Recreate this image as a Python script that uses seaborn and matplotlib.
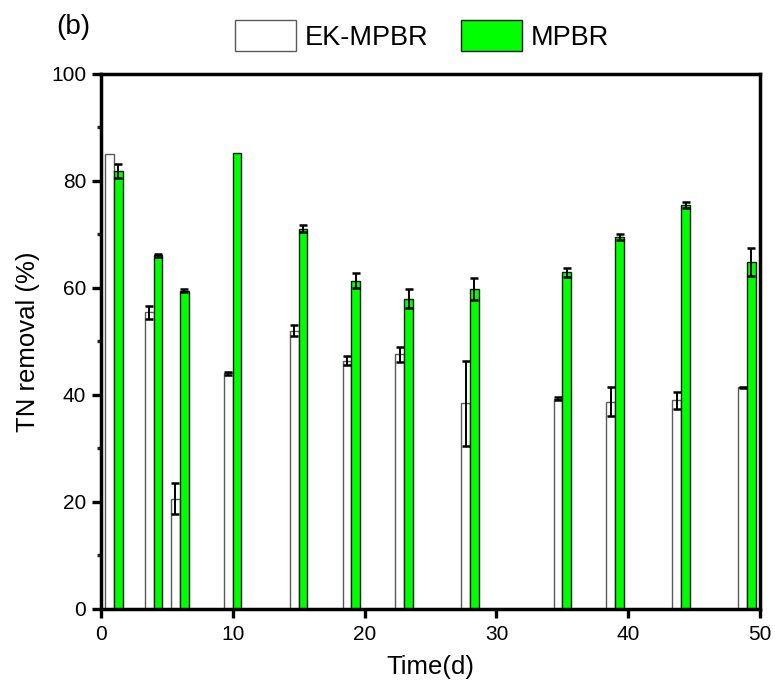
import numpy as np
import pandas as pd
import matplotlib
matplotlib.use("Agg")
import matplotlib.pyplot as plt
from matplotlib.ticker import MultipleLocator
import seaborn as sns

# Sampling days and TN removal (%) with standard deviations
days = [1, 4, 6, 10, 15, 19, 23, 28, 35, 39, 44, 49]
ek_mpbr = [85.0, 55.4, 20.6, 44.0, 52.0, 46.4, 47.6, 38.4, 39.3, 38.7, 39.0, 41.4]
ek_mpbr_sd = [0.0, 1.2, 2.9, 0.3, 1.0, 0.8, 1.4, 7.9, 0.3, 2.7, 1.6, 0.1]
mpbr = [81.8, 66.1, 59.5, 85.3, 71.1, 61.3, 58.0, 59.8, 62.9, 69.5, 75.5, 64.8]
mpbr_sd = [1.3, 0.3, 0.3, 0.0, 0.6, 1.4, 1.8, 2.0, 0.8, 0.5, 0.6, 2.6]

groups = ["EK-MPBR", "MPBR"]
colors = {"EK-MPBR": "#ffffff", "MPBR": "#00ff00"}
edges = {"EK-MPBR": "#5a5a5a", "MPBR": "#1a1a1a"}

df = pd.concat([
    pd.DataFrame({"Time": days, "TN": ek_mpbr, "sd": ek_mpbr_sd, "Reactor": "EK-MPBR"}),
    pd.DataFrame({"Time": days, "TN": mpbr, "sd": mpbr_sd, "Reactor": "MPBR"}),
], ignore_index=True)

sns.set_theme(style="ticks")
plt.rcParams["font.family"] = ["Liberation Sans", "DejaVu Sans"]
plt.rcParams["text.color"] = "black"
plt.rcParams["axes.labelcolor"] = "black"

fig = plt.figure(figsize=(7.75, 6.98), dpi=100)
ax = fig.add_axes([0.130, 0.128, 0.851, 0.766])

sns.barplot(data=df, x="Time", y="TN", hue="Reactor", hue_order=groups,
            palette=colors, saturation=1, native_scale=True, width=0.667,
            errorbar=None, linewidth=1.0, ax=ax)

sd_by_group = {"EK-MPBR": ek_mpbr_sd, "MPBR": mpbr_sd}
for name, container in zip(groups, ax.containers):
    xs, ys, errs = [], [], []
    for patch, sd in zip(container.patches, sd_by_group[name]):
        patch.set_edgecolor(edges[name])
        patch.set_linewidth(1.0)
        if sd > 0:
            xs.append(patch.get_x() + patch.get_width() / 2)
            ys.append(patch.get_height())
            errs.append(sd)
    ax.errorbar(xs, ys, yerr=errs, fmt="none", ecolor="black",
                elinewidth=1.4, capsize=3.2, capthick=1.8, zorder=5)

ax.set_xlim(0, 50)
ax.set_ylim(0, 100)
ax.xaxis.set_major_locator(MultipleLocator(10))
ax.yaxis.set_major_locator(MultipleLocator(20))
ax.yaxis.set_minor_locator(MultipleLocator(10))
ax.tick_params(axis="both", which="major", direction="out", length=6.5,
               width=2.4, labelsize=15, color="black", labelcolor="black")
ax.tick_params(axis="y", which="minor", direction="out", length=3.2, width=2.4)
ax.tick_params(axis="x", pad=5)
ax.tick_params(axis="y", pad=4)

for side in ["left", "right", "top", "bottom"]:
    ax.spines[side].set_visible(True)
    ax.spines[side].set_linewidth(2.5)
    ax.spines[side].set_color("black")

ax.set_xlabel("Time(d)", fontsize=18.5, labelpad=8)
ax.set_ylabel("TN removal (%)", fontsize=18.5, labelpad=8)

legend = ax.get_legend()
if legend is not None:
    legend.remove()
handles = [c.patches[0] for c in ax.containers[:2]]
fig.legend(handles, groups, loc="center", bbox_to_anchor=(0.545, 0.949),
           ncol=2, frameon=False, fontsize=19.5, handlelength=2.25,
           handleheight=1.35, handletextpad=0.33, columnspacing=1.2,
           borderpad=0.2)

fig.text(0.072, 0.962, "(b)", fontsize=20, va="center", ha="left")

fig.savefig("out.png", dpi=100)
